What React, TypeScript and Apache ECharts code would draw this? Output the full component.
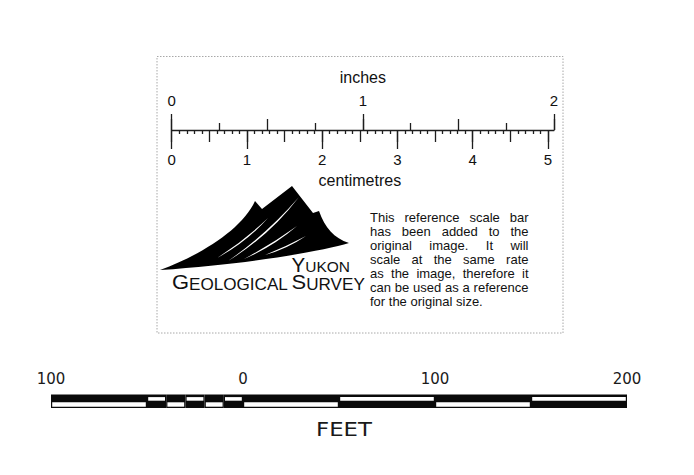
import React, { useEffect, useRef } from "react";
import * as echarts from "echarts";

// ---------- data ----------
const inchMax = 2;
const cmMax = 5;
const cmPerInch = 2.54;
const inchName = "inches";
const cmName = "centimetres";
const feetMin = -100;
const feetMax = 200;
const feetLabelStep = 100;
const segStart = [-100, -50, -40, -30, -20, -10, 0, 50, 100, 150];
const segEnd = [-50, -40, -30, -20, -10, 0, 50, 100, 150, 200];
const segTopWhite = [0, 1, 0, 1, 0, 1, 0, 1, 0, 1];
const feetName = "FEET";
const noteLines = [
  "This reference scale bar",
  "has been added to the",
  "original image.  It will",
  "scale at the same rate",
  "as the image, therefore it",
  "can be used as a reference",
  "for the original size.",
];

// ---------- logo shapes ----------
const mountainPath =
  "M160,270 C203,254 242,229 255,201 L262,209 L292,186 L313,213 L319,211 C325,228 334,238 349,243 C322,251 250,264 160,270 Z";

function crescent(x1: number, y1: number, x2: number, y2: number, bulge: number, w: number) {
  const mx = (x1 + x2) / 2, my = (y1 + y2) / 2;
  const dx = x2 - x1, dy = y2 - y1;
  const L = Math.hypot(dx, dy);
  const nx = -dy / L, ny = dx / L;
  const c1x = mx + nx * (bulge + w), c1y = my + ny * (bulge + w);
  const c2x = mx + nx * (bulge - w), c2y = my + ny * (bulge - w);
  return `M${x1},${y1} Q${c1x.toFixed(2)},${c1y.toFixed(2)} ${x2},${y2} Q${c2x.toFixed(2)},${c2y.toFixed(2)} ${x1},${y1} Z`;
}
const slashPath = [
  crescent(217, 258, 268, 218, 4.5, 1.4),
  crescent(228, 261, 299, 197, 7.5, 1.6),
  crescent(244, 259, 297, 226, 3.5, 1.4),
  crescent(265, 255, 306, 236, 2.5, 1.3),
].join(" ");

echarts.graphic.registerShape("ygsMountain", echarts.graphic.extendPath(mountainPath, {}));
echarts.graphic.registerShape("ygsSlashes", echarts.graphic.extendPath(slashPath, {}));

const INK = "#111111";
const SANS = "'Liberation Sans', Arial, sans-serif";
const DEJA = "'DejaVu Sans', sans-serif";

export default function App() {
  const ref = useRef<HTMLDivElement>(null);
  useEffect(() => {
    if (!ref.current) return;
    const chart = echarts.init(ref.current, undefined, { renderer: "svg" });

    // ruler geometry
    const RL = 171.7, RR = 554, lineY = 130;
    const inchW = RR - RL;
    const cmW = (inchW * cmMax) / (inchMax * cmPerInch);
    const tickLine = { color: "#1e1e1e", width: 1.3 };

    // justified paragraph
    const ctx = document.createElement("canvas").getContext("2d")!;
    const pSize = 13;
    ctx.font = `${pSize}px "Liberation Sans"`;
    const pLeft = 370, pRight = 528.5, pTop = 217.5, pStep = 14;
    const noteEls: any[] = [];
    noteLines.forEach((line, i) => {
      const words = line.split(/\s+/);
      const y = pTop + i * pStep;
      if (i === noteLines.length - 1) {
        noteEls.push({ type: "text", x: pLeft, y, style: { text: line, fontSize: pSize, fontFamily: SANS, fill: INK, verticalAlign: "middle" } });
        return;
      }
      const widths = words.map((w) => ctx.measureText(w).width);
      const sum = widths.reduce((a, b) => a + b, 0);
      const gap = (pRight - pLeft - sum) / (words.length - 1);
      let x = pLeft;
      words.forEach((w, k) => {
        noteEls.push({ type: "text", x, y, style: { text: w, fontSize: pSize, fontFamily: SANS, fill: INK, verticalAlign: "middle" } });
        x += widths[k] + gap;
      });
    });

    const hiddenY = (gi: number) => ({ gridIndex: gi, type: "value", show: false, min: 0, max: 2 });

    const option: any = {
      animation: false,
      grid: [
        { left: RL, top: lineY, width: inchW, height: 20, outerBoundsMode: "none" },
        { left: RL, top: lineY, width: inchW, height: 20, outerBoundsMode: "none" },
        { left: RL, top: lineY - 20, width: cmW, height: 20, outerBoundsMode: "none" },
        { left: RL, top: lineY - 20, width: cmW, height: 20, outerBoundsMode: "none" },
        { left: 51, top: 394.5, width: 576, height: 13.5, outerBoundsMode: "none" },
      ],
      xAxis: [
        {
          gridIndex: 0, type: "value", position: "top", min: 0, max: inchMax, interval: 1,
          axisLine: { show: true, onZero: false, lineStyle: tickLine },
          axisTick: { show: true, length: 16, lineStyle: tickLine },
          axisLabel: { margin: 22, fontSize: 15, fontFamily: SANS, color: INK, showMinLabel: true, showMaxLabel: true },
          splitLine: { show: false },
          name: inchName, nameLocation: "middle", nameGap: 45,
          nameTextStyle: { fontSize: 16, fontFamily: SANS, color: INK },
        },
        {
          gridIndex: 1, type: "value", position: "top", min: 0, max: inchMax, interval: 0.5,
          axisLine: { show: false, onZero: false },
          axisTick: { show: true, length: 11, lineStyle: tickLine },
          minorTick: { show: true, splitNumber: 2, length: 7, lineStyle: tickLine },
          axisLabel: { show: false },
          splitLine: { show: false },
        },
        {
          gridIndex: 2, type: "value", position: "bottom", min: 0, max: cmMax, interval: 1,
          axisLine: { show: false, onZero: false },
          axisTick: { show: true, length: 19, lineStyle: tickLine },
          axisLabel: { margin: 22, fontSize: 15, fontFamily: SANS, color: INK, showMinLabel: true, showMaxLabel: true },
          splitLine: { show: false },
          name: cmName, nameLocation: "middle", nameGap: 42,
          nameTextStyle: { fontSize: 16, fontFamily: SANS, color: INK },
        },
        {
          gridIndex: 3, type: "value", position: "bottom", min: 0, max: cmMax, interval: 0.5,
          axisLine: { show: false, onZero: false },
          axisTick: { show: true, length: 12, lineStyle: tickLine },
          minorTick: { show: true, splitNumber: 5, length: 4, lineStyle: tickLine },
          axisLabel: { show: false },
          splitLine: { show: false },
        },
        {
          gridIndex: 4, type: "value", position: "top", min: feetMin, max: feetMax, interval: feetLabelStep,
          axisLine: { show: false, onZero: false },
          axisTick: { show: false },
          axisLabel: {
            margin: 8, fontSize: 15, fontFamily: DEJA, color: "#1a1a1a",
            showMinLabel: true, showMaxLabel: true,
            formatter: (v: number) => String(Math.abs(v)),
          },
          splitLine: { show: false },
        },
      ],
      yAxis: [hiddenY(0), hiddenY(1), hiddenY(2), hiddenY(3), hiddenY(4)],
      series: [
        {
          type: "custom",
          xAxisIndex: 4,
          yAxisIndex: 4,
          clip: false,
          encode: { x: [0, 1], y: [2] },
          data: segStart.map((s, i) => [s, segEnd[i], segTopWhite[i]]),
          renderItem: (params: any, api: any) => {
            const a = api.coord([api.value(0), 2]);
            const b = api.coord([api.value(1), 0]);
            const left = a[0], right = b[0], top = a[1], bottom = b[1];
            const topWhite = api.value(2) === 1;
            const wy = topWhite ? top + 2.6 : top + 7.8;
            const wh = topWhite ? 3.6 : 4.4;
            return {
              type: "group",
              children: [
                { type: "rect", shape: { x: left, y: top, width: right - left, height: bottom - top }, style: { fill: "#0a0a0a" } },
                { type: "rect", shape: { x: left + 1.2, y: wy, width: right - left - 2.4, height: wh }, style: { fill: "#ffffff" } },
              ],
            };
          },
        },
      ],
      graphic: {
        elements: [
          {
            type: "rect", shape: { x: 157, y: 56.5, width: 406, height: 276.5 },
            style: { fill: "none", stroke: "#a8a8a8", lineWidth: 1, lineDash: [1.5, 1.5] },
          },
          { type: "ygsMountain", x: 0, y: 0, style: { fill: "#000" } },
          { type: "ygsSlashes", x: 0, y: 0, style: { fill: "#fff" } },
          {
            type: "text", x: 350, y: 274.5, scaleX: 1.0,
            style: {
              text: "{a|Y}{b|UKON}", align: "right", verticalAlign: "bottom", fill: INK,
              rich: {
                a: { fontSize: 20.5, fontFamily: SANS, fill: INK, verticalAlign: "bottom", lineHeight: 21 },
                b: { fontSize: 15.5, fontFamily: SANS, fill: INK, verticalAlign: "bottom", lineHeight: 21 },
              },
            },
          },
          {
            type: "text", x: 172, y: 292.5, scaleX: 1.07,
            style: {
              text: "{a|G}{b|EOLOGICAL} {a|S}{b|URVEY}", align: "left", verticalAlign: "bottom", fill: INK,
              rich: {
                a: { fontSize: 20.5, fontFamily: SANS, fill: INK, verticalAlign: "bottom", lineHeight: 21 },
                b: { fontSize: 16, fontFamily: SANS, fill: INK, verticalAlign: "bottom", lineHeight: 21 },
              },
            },
          },
          ...noteEls,
          {
            type: "text", x: 344, y: 430, scaleX: 1.2,
            style: { text: feetName, fontSize: 19, fontFamily: DEJA, fill: "#1a1a1a", align: "center", verticalAlign: "middle" },
          },
        ],
      },
    };
    chart.setOption(option);
    return () => chart.dispose();
  }, []);
  return (
    <div
      ref={ref}
      style={{ position: "fixed", left: 0, top: 0, width: 694, height: 475, background: "#fff" }}
    />
  );
}
